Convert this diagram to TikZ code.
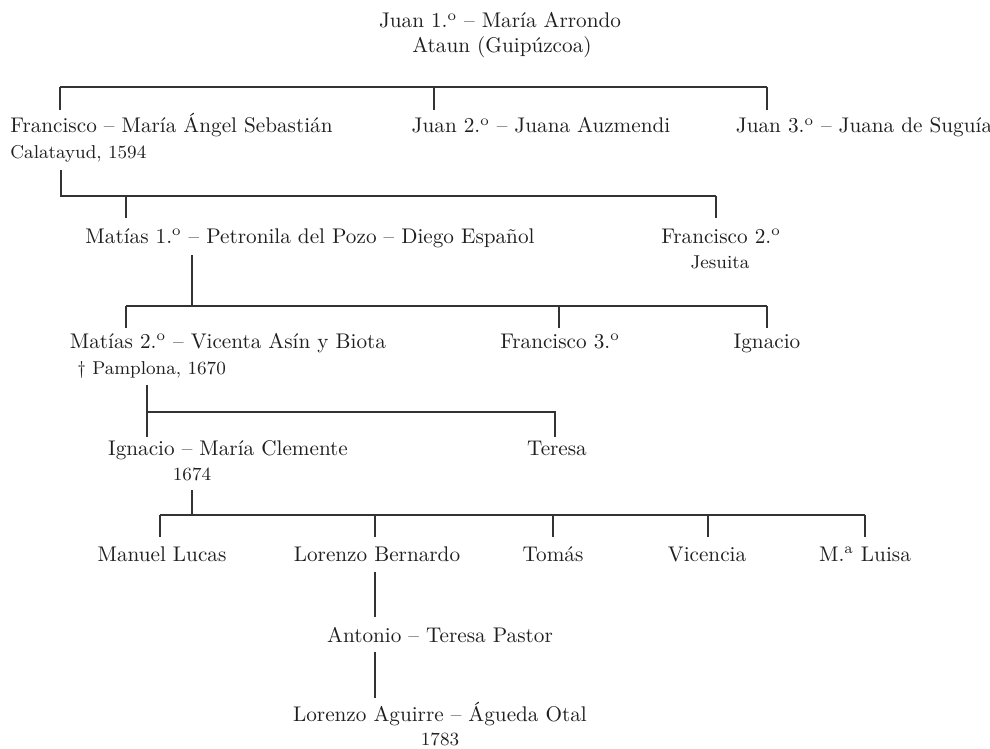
\documentclass[tikz,border=0pt]{standalone}
\tikzset{
  person/.style={inner sep=0pt, anchor=base, text=black!88, font=\fontsize{10.6}{12}\selectfont},
  note/.style={inner sep=0pt, anchor=base, text=black!88, font=\fontsize{9.3}{11}\selectfont},
  link/.style={line width=0.65pt, draw=black!80},
}
\newcommand{\ordo}{\textsuperscript{o}}
\newcommand{\orda}{\textsuperscript{a}}
\begin{document}
\begin{tikzpicture}[x=0.5pt,y=-0.5pt]
\useasboundingbox (0,0) rectangle (990,749);
% generation 1
\node[person] (juan1) at (500,28) {Juan 1.\ordo{} – María Arrondo};
\node[person] (ataun) at (502,53) {Ataun (Guipúzcoa)};
% generation 2
\node[person,anchor=base west] (fran1) at (10,133) {Francisco – María Ángel Sebastián};
\node[note,anchor=base west] (calat) at (10,158) {Calatayud, 1594};
\node[person] (juan2) at (541,133) {Juan 2.\ordo{} – Juana Auzmendi};
\node[person] (juan3) at (864,133) {Juan 3.\ordo{} – Juana de Suguía};
% generation 3
\node[person] (matias1) at (310,243) {Matías 1.\ordo{} – Petronila del Pozo – Diego Español};
\node[person] (fran2) at (721,243) {Francisco 2.\ordo};
\node[note] (jesuita) at (720,268) {Jesuita};
% generation 4
\node[person] (matias2) at (228,348) {Matías 2.\ordo{} – Vicenta Asín y Biota};
\node[note,anchor=base west] (pamp) at (77,374) {\textdagger{} Pamplona, 1670};
\node[person] (fran3) at (560,348) {Francisco 3.\ordo};
\node[person] (ignacio1) at (767,348) {Ignacio};
% generation 5
\node[person] (ignacio2) at (228,455) {Ignacio – María Clemente};
\node[note] (y1674) at (192,480) {1674};
\node[person] (teresa) at (557,455) {Teresa};
% generation 6
\node[person] (manuel) at (162,561) {Manuel Lucas};
\node[person] (lorenzo1) at (377,561) {Lorenzo Bernardo};
\node[person] (tomas) at (553,561) {Tomás};
\node[person] (vicencia) at (707,561) {Vicencia};
\node[person] (luisa) at (865,561) {M.\orda{} Luisa};
% generation 7-8
\node[person] (antonio) at (440,642) {Antonio – Teresa Pastor};
\node[person] (lorenzo2) at (440,721) {Lorenzo Aguirre – Águeda Otal};
\node[note] (y1783) at (440,745) {1783};

% junction coordinates
\coordinate (b1a) at (60,87);  \coordinate (b1b) at (434,87); \coordinate (b1c) at (767,87);
\coordinate (s1) at (61,170);
\coordinate (b2a) at (61,196); \coordinate (b2b) at (126,196); \coordinate (b2c) at (716,196);
\coordinate (s2) at (192,255);
\coordinate (b3m) at (192,306);
\coordinate (b3a) at (126,306); \coordinate (b3b) at (559,306); \coordinate (b3c) at (767,306);
\coordinate (s3) at (147,385);
\coordinate (b4a) at (147,412); \coordinate (b4b) at (555,412);
\coordinate (s4) at (192,490);
\coordinate (b5m) at (192,515);
\coordinate (b5a) at (160,515); \coordinate (b5b) at (375,515); \coordinate (b5c) at (553,515);
\coordinate (b5d) at (708,515); \coordinate (b5e) at (865,515);
\coordinate (s5) at (375,572); \coordinate (e5) at (375,617);
\coordinate (s6) at (375,652); \coordinate (e6) at (375,698);

% level 1 bar
\draw[link] (b1a) -- (b1c);
\draw[link] (b1a) -- ++(0,23);
\draw[link] (b1b) -- ++(0,23);
\draw[link] (b1c) -- ++(0,23);
% level 2
\draw[link] (s1) -- (b2a) -- (b2c);
\draw[link] (b2b) -- ++(0,22);
\draw[link] (b2c) -- ++(0,22);
% level 3
\draw[link] (s2) -- (b3m);
\draw[link] (b3a) -- (b3c);
\draw[link] (b3a) -- ++(0,22);
\draw[link] (b3b) -- ++(0,22);
\draw[link] (b3c) -- ++(0,22);
% level 4
\draw[link] (s3) -- ++(0,52);
\draw[link] (b4a) -- (b4b) -- ++(0,25);
% level 5
\draw[link] (s4) -- (b5m);
\draw[link] (b5a) -- (b5e);
\draw[link] (b5a) -- ++(0,22);
\draw[link] (b5b) -- ++(0,22);
\draw[link] (b5c) -- ++(0,22);
\draw[link] (b5d) -- ++(0,22);
\draw[link] (b5e) -- ++(0,22);
% descent
\draw[link] (s5) -- (e5);
\draw[link] (s6) -- (e6);
\end{tikzpicture}
\end{document}
